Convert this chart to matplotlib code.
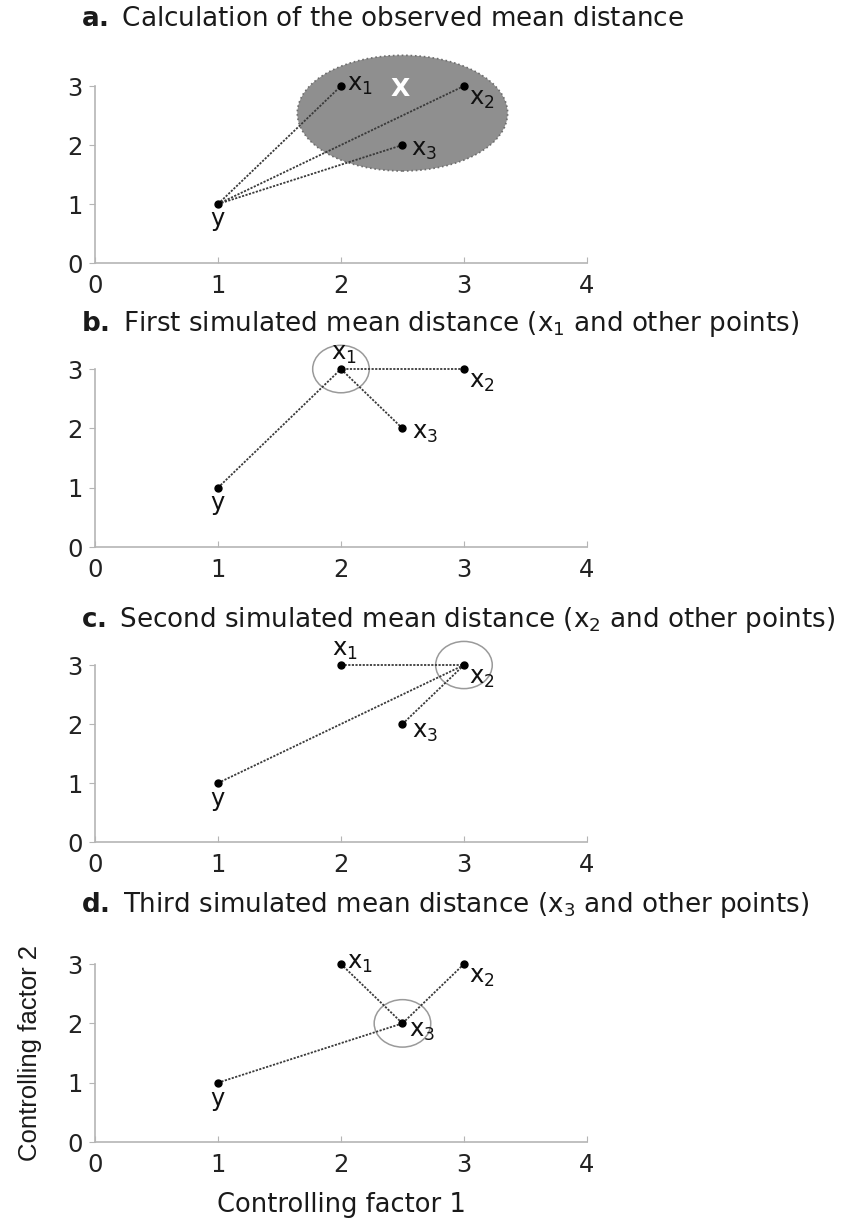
import matplotlib
matplotlib.use('Agg')
import matplotlib.pyplot as plt
from matplotlib.patches import Ellipse

plt.rcParams['font.family'] = ['DejaVu Sans']
plt.rcParams['mathtext.fontset'] = 'dejavusans'

# point coordinates (controlling factor 1, controlling factor 2)
point_names = ['y', 'x$_1$', 'x$_2$', 'x$_3$']
point_x = [1, 2, 3, 2.5]
point_y = [1, 3, 3, 2]

# which point is the focus in each panel (None = observed case)
focus = [None, 1, 2, 3]

titles = [r'$\mathbf{a.}$ Calculation of the observed mean distance',
          r'$\mathbf{b.}$ First simulated mean distance (x$_1$ and other points)',
          r'$\mathbf{c.}$ Second simulated mean distance (x$_2$ and other points)',
          r'$\mathbf{d.}$ Third simulated mean distance (x$_3$ and other points)']

# label offsets in pixels per panel: (dx, dy, ha) for y, x1, x2, x3
label_offsets = [
    [(0, -15, 'center'), (6, 1, 'left'), (5, -13, 'left'), (9, -5, 'left')],
    [(0, -15, 'center'), (3, 15, 'center'), (5, -13, 'left'), (10, -5, 'left')],
    [(0, -16, 'center'), (4, 15, 'center'), (5, -13, 'left'), (10, -8, 'left')],
    [(0, -16, 'center'), (6, 1, 'left'), (5, -13, 'left'), (7, -8, 'left')],
]

# observed cluster ellipse (centre, width, height)
cluster_xy = (2.5, 2.54)
cluster_w, cluster_h = 1.71, 1.96

# axes positions [left, bottom, width, height]
axes_pos = [[0.1128, 0.7844, 0.5843, 0.1451],
            [0.1128, 0.5516, 0.5843, 0.1459],
            [0.1128, 0.3098, 0.5843, 0.1451],
            [0.1128, 0.0639, 0.5843, 0.1459]]
title_y = [0.9844, 0.7344, 0.4918, 0.2582]

line_kw = dict(color='#3a3a3a', linestyle=(0, (1.2, 0.8)), linewidth=1.3, zorder=3)

fig = plt.figure(figsize=(8.42, 12.2), dpi=100)

for i in range(4):
    ax = fig.add_axes(axes_pos[i])
    ax.set_xlim(0, 4)
    ax.set_ylim(0, 3)
    for s in ['top', 'right']:
        ax.spines[s].set_visible(False)
    for s in ['left', 'bottom']:
        ax.spines[s].set_color('#b5b5b5')
        ax.spines[s].set_linewidth(1.2)
    ax.set_xticks([0, 1, 2, 3, 4])
    ax.set_yticks([0, 1, 2, 3])
    ax.tick_params(axis='x', direction='in', length=4, color='#b5b5b5',
                   labelsize=17.5, pad=8, labelcolor='#222222')
    ax.tick_params(axis='y', direction='out', length=4, color='#b5b5b5',
                   labelsize=17.5, pad=5, labelcolor='#222222')
    ax.patch.set_visible(False)

    f = focus[i]
    if f is None:
        ax.add_patch(Ellipse(cluster_xy, cluster_w, cluster_h, facecolor='#8f8f8f',
                             edgecolor='#6e6e6e', linestyle=':', linewidth=1.2,
                             clip_on=False, zorder=1))
        ax.text(2.48, 2.95, 'X', color='white', fontsize=18, fontweight='bold',
                ha='center', va='center', zorder=4)
        pairs = [(0, 1), (0, 2), (0, 3)]
    else:
        ax.add_patch(Ellipse((point_x[f], point_y[f]), 0.46, 0.8, facecolor='none',
                             edgecolor='#9a9a9a', linewidth=1.1, clip_on=False, zorder=2))
        pairs = [(0, f)] + [(j, f) for j in range(1, 4) if j != f]

    for a, b in pairs:
        ax.plot([point_x[a], point_x[b]], [point_y[a], point_y[b]], clip_on=False, **line_kw)

    ax.plot(point_x, point_y, 'o', color='black', markersize=5, clip_on=False, zorder=5)

    for k in range(4):
        dx, dy, ha = label_offsets[i][k]
        ax.annotate(point_names[k], (point_x[k], point_y[k]), xytext=(dx, dy),
                    textcoords='offset pixels', ha=ha, va='center', fontsize=17.5,
                    color='#111111', zorder=6, annotation_clip=False)

    fig.text(0.096, title_y[i], titles[i], fontsize=18.8, ha='left', va='center',
             color='#1a1a1a')

    if i == 3:
        ax.set_xlabel('Controlling factor 1', fontsize=18.5, labelpad=11, color='#1a1a1a')
        ax.set_ylabel('Controlling factor 2', fontsize=18.5, labelpad=18, color='#1a1a1a',
                      family='Liberation Sans')

fig.savefig('out.png', dpi=100)
